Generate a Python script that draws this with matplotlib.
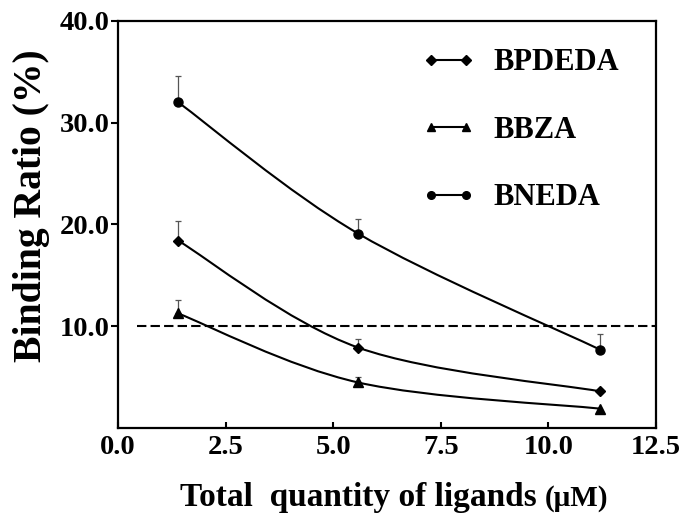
import numpy as np
import matplotlib
matplotlib.use("Agg")
import matplotlib.pyplot as plt
from matplotlib.path import Path
from matplotlib.patches import PathPatch
from matplotlib.lines import Line2D

plt.rcParams["font.family"] = ["Liberation Serif", "DejaVu Serif"]
plt.rcParams["font.weight"] = "bold"

# data
x = [1.4, 5.58, 11.2]
bpdeda = [18.4, 7.9, 3.6]
bpdeda_err = [1.9, 0.8, 0.0]
bbza = [11.25, 4.47, 1.9]
bbza_err = [1.35, 0.5, 0.0]
bneda = [32.0, 19.1, 7.7]
bneda_err = [2.6, 1.4, 1.5]
threshold = 10.0

xticks = [0.0, 2.5, 5.0, 7.5, 10.0, 12.5]
yticks = [10.0, 20.0, 30.0, 40.0]


def smooth_path(xs, ys):
    # Catmull-Rom through the points, drawn as cubic Bezier segments
    pts = np.column_stack([xs, ys])
    verts = [pts[0]]
    codes = [Path.MOVETO]
    n = len(pts)
    for i in range(n - 1):
        p0 = pts[i - 1] if i > 0 else pts[i]
        p1, p2 = pts[i], pts[i + 1]
        p3 = pts[i + 2] if i + 2 < n else pts[i + 1]
        verts += [p1 + (p2 - p0) / 6, p2 - (p3 - p1) / 6, p2]
        codes += [Path.CURVE4] * 3
    return Path(verts, codes)


fig = plt.figure(figsize=(6.85, 5.30), dpi=100)
ax = fig.add_axes([0.1723, 0.1925, 0.7854, 0.768])

series = [(bpdeda, bpdeda_err, "D", 5.5), (bbza, bbza_err, "^", 6.5), (bneda, bneda_err, "o", 6.5)]
for ys, err, mk, ms in series:
    ax.add_patch(PathPatch(smooth_path(x, ys), fill=False, lw=1.5, color="black", zorder=3))
    ax.plot(x, ys, linestyle="none", marker=mk, ms=ms, color="black", zorder=4)
    for xi, yi, ei in zip(x, ys, err):
        if ei > 0:
            ax.errorbar([xi], [yi], yerr=[[0], [ei]], fmt="none", ecolor="#555555",
                        elinewidth=0.9, capsize=2.5, capthick=0.9, zorder=2)

ax.axhline(threshold, xmin=0.035, color="black", lw=1.5, linestyle=(0, (4.5, 2)), zorder=2)

ax.set_xlim(0, 12.5)
ax.set_ylim(0, 40)
ax.set_xticks(xticks)
ax.set_xticklabels([f"{v:.1f}" for v in xticks])
ax.set_yticks(yticks)
ax.set_yticklabels([f"{v:.1f}" for v in yticks])
ax.tick_params(axis="x", direction="in", length=4, width=1.5, labelsize=20.5, pad=5)
ax.tick_params(axis="y", direction="out", length=5, width=1.5, labelsize=20.5, pad=1)
for s in ax.spines.values():
    s.set_linewidth(1.6)

fig.text(32 / 685, (530 - 206) / 530, "Binding Ratio (%)", rotation=90,
         ha="center", va="center", fontsize=28.5, fontweight="bold")
fig.text(180 / 685, 0.0453, "Total  quantity of ligands", ha="left", va="baseline",
         fontsize=24, fontweight="bold")
fig.text(545 / 685, 0.0453, "(\u03bcM)", ha="left", va="baseline",
         fontsize=21, fontweight="bold")

handles = [Line2D([], [], color="black", lw=1.5, marker="D", ms=5),
           Line2D([], [], color="black", lw=1.5, marker="^", ms=5.5),
           Line2D([], [], color="black", lw=1.5, marker="o", ms=5.5)]
leg = ax.legend(handles, ["BPDEDA", "BBZA", "BNEDA"], loc="upper right",
                bbox_to_anchor=(0.9535, 0.963), borderaxespad=0, frameon=False,
                numpoints=2, labelspacing=1.26, handlelength=1.75, handletextpad=0.59,
                prop={"weight": "bold", "size": 22})

fig.savefig("out.png", dpi=100)
